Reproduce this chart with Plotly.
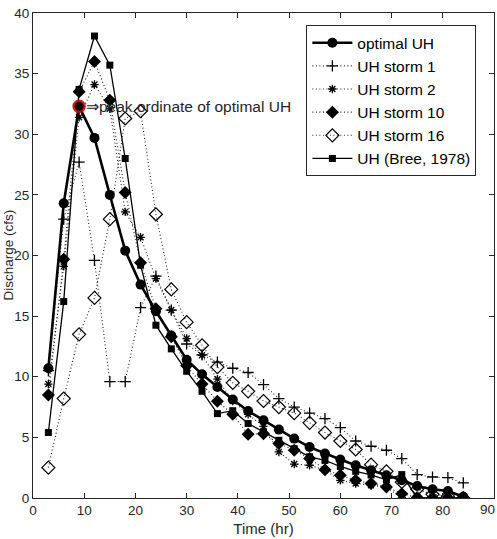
import plotly.graph_objects as go

time_hr = [3, 6, 9, 12, 15, 18, 21, 24, 27, 30, 33, 36, 39, 42, 45, 48, 51, 54, 57, 60, 63, 66, 69, 72, 75, 78, 81, 84]

optimal_uh = [10.7, 24.3, 32.3, 29.7, 25.0, 20.4, 17.6, 15.4, 13.4, 11.4, 10.2, 9.16, 8.12, 7.18, 6.41, 5.64, 4.9, 4.2, 3.66, 3.17, 2.7, 2.29, 1.87, 1.46, 0.99, 0.72, 0.58, 0.1]
uh_storm1 = [10.5, 23.0, 27.7, 19.6, 9.6, 9.6, 15.7, 18.3, 15.5, 12.7, 11.8, 11.2, 10.7, 10.35, 9.35, 8.2, 7.5, 7.0, 6.55, 5.8, 4.7, 4.27, 3.94, 3.25, 1.93, 1.73, 1.68, 1.24]
uh_storm2 = [9.4, 19.1, 31.4, 34.1, 32.1, 23.6, 21.5, 18.1, 15.5, 13.15, 11.77, 9.8, 8.0, 6.9, 5.9, 3.8, 2.8, 2.7, 2.3, 1.46, 1.2, 1.05, 0.9, 0.0, 0.0, 0.0, 0.0, 0.0]
uh_storm10 = [8.5, 19.7, 33.5, 36.0, 32.8, 25.2, 19.4, 15.6, 13.3, 10.9, 9.4, 7.98, 6.9, 5.25, 5.3, 4.49, 3.94, 3.25, 2.34, 1.87, 1.46, 1.19, 0.91, 0.36, 0.05, 0.0, 0.0, 0.0]
uh_storm16 = [2.5, 8.2, 13.5, 16.5, 23.0, 31.3, 31.9, 23.4, 17.2, 14.5, 12.6, 10.8, 9.5, 8.8, 8.0, 7.5, 7.0, 6.2, 5.4, 4.7, 4.0, 2.75, 2.2, 1.32, 0.72, 0.3, 0.15, 0.0]
uh_bree = [5.4, 16.2, 33.7, 38.1, 35.7, 28.0, 19.2, 14.25, 12.3, 10.45, 8.8, 6.96, 7.2, 6.14, 5.45, 4.76, 4.07, 3.4, 3.1, 2.6, 2.2, 1.9, 1.5, 1.93, 0.0, 0.0, 0.0, 0.0]

peak_time = [9]
peak_value = [32.3]

x_ticks = [0, 10, 20, 30, 40, 50, 60, 70, 80]
x_last_tick = 90
y_ticks = [0, 5, 10, 15, 20, 25, 30, 35, 40]

AX = "#262626"
FONT = "Liberation Sans, Arial, sans-serif"
DOT = "1px,2.5px"

fig = go.Figure()

fig.add_trace(go.Scatter(
    x=time_hr, y=optimal_uh, name="optimal UH", mode="lines+markers",
    line=dict(color="black", width=2.6),
    marker=dict(symbol="circle", size=10, color="black")))
fig.add_trace(go.Scatter(
    x=time_hr, y=uh_storm1, name="UH storm 1", mode="lines+markers",
    line=dict(color="#222222", width=1.1, dash=DOT),
    marker=dict(symbol="cross-thin-open", size=8, color="black", line=dict(width=1.3, color="black"))))
fig.add_trace(go.Scatter(
    x=time_hr, y=uh_storm2, name="UH storm 2", mode="lines+markers",
    line=dict(color="#222222", width=1.1, dash=DOT),
    marker=dict(symbol="asterisk-open", size=7, color="black", line=dict(width=1.3, color="black"))))
fig.add_trace(go.Scatter(
    x=time_hr, y=uh_storm10, name="UH storm 10", mode="lines+markers",
    line=dict(color="#222222", width=1.1, dash=DOT),
    marker=dict(symbol="diamond", size=10, color="black")))
fig.add_trace(go.Scatter(
    x=time_hr, y=uh_storm16, name="UH storm 16", mode="lines+markers",
    line=dict(color="#222222", width=1.1, dash=DOT),
    marker=dict(symbol="diamond-open", size=10, color="black", line=dict(width=1.2, color="black"))))
fig.add_trace(go.Scatter(
    x=time_hr, y=uh_bree, name="UH (Bree, 1978)", mode="lines+markers",
    line=dict(color="black", width=1.3),
    marker=dict(symbol="square", size=7, color="black")))

fig.add_trace(go.Scatter(
    x=peak_time, y=peak_value, mode="markers", showlegend=False, hoverinfo="skip",
    marker=dict(symbol="circle-open", size=11, color="rgba(200,0,0,0.85)",
                line=dict(width=2.5, color="rgba(200,0,0,0.85)"))))

fig.add_annotation(
    x=peak_time[0], y=peak_value[0], xref="x", yref="y",
    text="\u21d2peak ordinate of optimal UH", showarrow=False,
    xanchor="left", yanchor="middle", xshift=5,
    font=dict(family=FONT, size=15.5, color=AX))

fig.add_annotation(
    x=0, y=0.5, xref="paper", yref="paper", xshift=-25,
    text="Discharge (cfs)", showarrow=False, textangle=-90,
    xanchor="center", yanchor="middle",
    font=dict(family=FONT, size=13.5, color=AX))

fig.add_annotation(
    x=1, y=0, xref="paper", yref="paper", xshift=2.5, yshift=-2,
    text=str(x_last_tick), showarrow=False,
    xanchor="right", yanchor="top",
    font=dict(family=FONT, size=13.5, color=AX))

fig.update_layout(
    width=497, height=539,
    margin=dict(l=32.5, r=2.5, t=12.7, b=41.3),
    paper_bgcolor="white", plot_bgcolor="white",
    font=dict(family=FONT, size=13, color=AX),
    showlegend=True,
    legend=dict(
        x=0.593, y=0.975, xanchor="left", yanchor="top",
        bgcolor="white", bordercolor=AX, borderwidth=1,
        font=dict(family=FONT, size=15.5, color="black"),
        itemwidth=40, tracegroupgap=0),
    xaxis=dict(
        range=[0, 90], tickmode="array", tickvals=x_ticks + [x_last_tick],
        ticktext=[str(v) for v in x_ticks] + [""],
        showgrid=False, zeroline=False,
        showline=True, linecolor=AX, linewidth=1, mirror="ticks",
        ticks="inside", ticklen=5, tickcolor=AX,
        tickfont=dict(family=FONT, size=13.5, color=AX),
        title=dict(text="Time (hr)", standoff=6, font=dict(family=FONT, size=15, color=AX))),
    yaxis=dict(
        range=[0, 40], tickmode="array", tickvals=y_ticks,
        showgrid=False, zeroline=False,
        showline=True, linecolor=AX, linewidth=1, mirror="ticks",
        ticks="inside", ticklen=5, tickcolor=AX,
        tickfont=dict(family=FONT, size=13.5, color=AX)),
)

fig.write_html("out.html")
